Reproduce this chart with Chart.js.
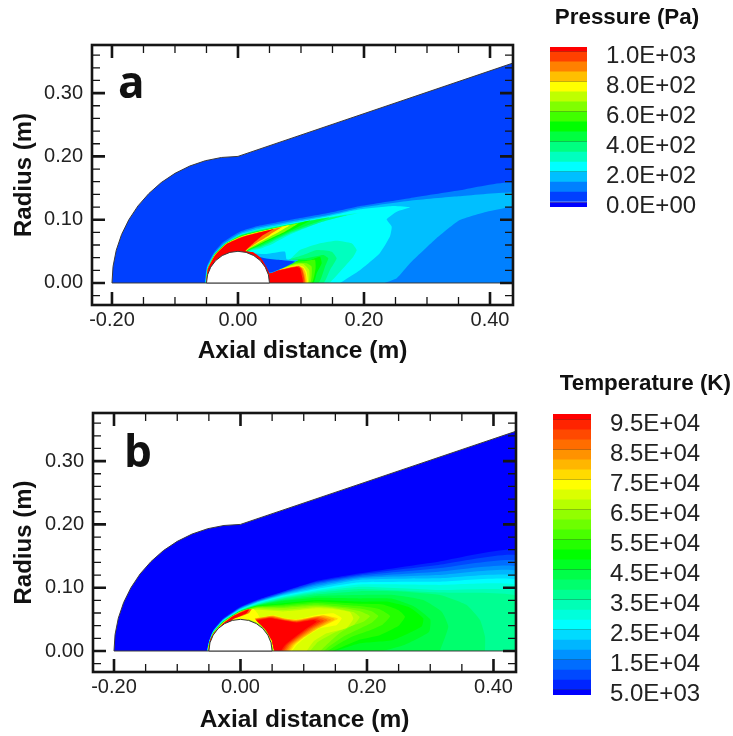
<!DOCTYPE html>
<html>
<head>
<meta charset="utf-8">
<script src="https://cdn.jsdelivr.net/npm/chart.js@4/dist/chart.umd.min.js"></script>
<style>
html, body { margin: 0; padding: 0; background: #fff; width: 733px; height: 736px; overflow: hidden; }
canvas { position: absolute; filter: blur(0.45px); }
</style>
</head>
<body>
<canvas id="panelA" width="535" height="370" style="left:0px;top:0px"></canvas>
<canvas id="panelB" width="535" height="366" style="left:0px;top:370px"></canvas>
<canvas id="legendA" width="176" height="225" style="left:528px;top:0px"></canvas>
<canvas id="legendB" width="193" height="366" style="left:540px;top:370px"></canvas>
<script>
const axialTicks = [-0.2, -0.15, -0.1, -0.05, 0, 0.05, 0.1, 0.15, 0.2, 0.25, 0.3, 0.35, 0.4];
const axialLabels = ['-0.20', '', '', '', '0.00', '', '', '', '0.20', '', '', '', '0.40'];
const radiusTicks = [-0.02, 0, 0.02, 0.04, 0.06, 0.08, 0.1, 0.12, 0.14, 0.16, 0.18, 0.2, 0.22, 0.24, 0.26, 0.28, 0.3, 0.32, 0.34, 0.36];
const radiusLabels = ['', '0.00', '', '', '', '', '0.10', '', '', '', '', '0.20', '', '', '', '', '0.30', '', '', ''];

const pressureColors = ['#0000ff', '#0040ff', '#0080ff', '#00bfff', '#00ffff', '#00ffbf', '#00ff80', '#00ff40', '#00ff00', '#40ff00', '#80ff00', '#bfff00', '#ffff00', '#ffbf00', '#ff8000', '#ff4000', '#ff0000'];
const pressureEdges = [-33.3, 0, 66.7, 133.3, 200, 266.7, 333.3, 400, 466.7, 533.3, 600, 666.7, 733.3, 800, 866.7, 933.3, 1000, 1033.3];
const pressureTicks = [0, 200, 400, 600, 800, 1000];
const pressureLabels = ['0.0E+00', '2.0E+02', '4.0E+02', '6.0E+02', '8.0E+02', '1.0E+03'];

const tempColors = ['#0000ff', '#0024ff', '#0049ff', '#006dff', '#0092ff', '#00b6ff', '#00dbff', '#00ffff', '#00ffdb', '#00ffb6', '#00ff92', '#00ff6d', '#00ff49', '#00ff24', '#00ff00', '#24ff00', '#49ff00', '#6dff00', '#92ff00', '#b6ff00', '#dbff00', '#ffff00', '#ffdb00', '#ffb600', '#ff9200', '#ff6d00', '#ff4900', '#ff2400', '#ff0000'];
const tempEdges = [3333, 5000, 8333, 11667, 15000, 18333, 21667, 25000, 28333, 31667, 35000, 38333, 41667, 45000, 48333, 51667, 55000, 58333, 61667, 65000, 68333, 71667, 75000, 78333, 81667, 85000, 88333, 91667, 95000, 97000];
const tempTicks = [5000, 15000, 25000, 35000, 45000, 55000, 65000, 75000, 85000, 95000];
const tempLabels = ['5.0E+03', '1.5E+04', '2.5E+04', '3.5E+04', '4.5E+04', '5.5E+04', '6.5E+04', '7.5E+04', '8.5E+04', '9.5E+04'];

// flow domain and body, metres
const domainEdge = [[-0.2, 0], [-0.1983, 0.0261], [-0.1932, 0.0518], [-0.1848, 0.0765], [-0.1732, 0.1], [-0.1587, 0.1218], [-0.1414, 0.1414], [-0.1218, 0.1587], [-0.1, 0.1732], [-0.0765, 0.1848], [-0.0518, 0.1932], [-0.0261, 0.1983], [0, 0.2], [0.44, 0.3487], [0.44, 0], [-0.2, 0]];
const bodyEdge = [[-0.05, 0], [-0.0483, 0.0129], [-0.0433, 0.025], [-0.0354, 0.0354], [-0.025, 0.0433], [-0.0129, 0.0483], [0, 0.05], [0.0129, 0.0483], [0.025, 0.0433], [0.0354, 0.0354], [0.0433, 0.025], [0.0483, 0.0129], [0.05, 0], [-0.05, 0]];
const belowAxis = [[-0.24, -0.04], [0.44, -0.04], [0.44, 0], [-0.24, 0]];

// pressure contours, lowest level first
const pShock = [[-0.0525, 0], [-0.0495, 0.026], [-0.039, 0.047], [-0.023, 0.065], [0.003, 0.081], [0.03, 0.0895], [0.088, 0.1005], [0.141, 0.11], [0.194, 0.1216], [0.273, 0.134], [0.35, 0.146], [0.44, 0.1565], [0.44, 0]];
const pOuter = [[-0.052, 0], [-0.049, 0.025], [-0.0385, 0.0455], [-0.022, 0.063], [0.004, 0.079], [0.031, 0.0875], [0.088, 0.098], [0.141, 0.107], [0.194, 0.119], [0.273, 0.13], [0.35, 0.137], [0.44, 0.1427], [0.44, 0.1232], [0.395, 0.1127], [0.352, 0.0995], [0.315, 0.0706], [0.273, 0.031], [0.252, 0.0074], [0.233, 0]];
const pCyan = [[-0.0517, 0], [-0.0485, 0.024], [-0.038, 0.044], [-0.021, 0.0615], [0.005, 0.0775], [0.032, 0.085], [0.088, 0.0955], [0.141, 0.105], [0.194, 0.1164], [0.2465, 0.1216], [0.273, 0.1196], [0.252, 0.1127], [0.236, 0.1006], [0.244, 0.089], [0.241, 0.073], [0.225, 0.047], [0.194, 0.0205], [0.162, 0]];
const pTongue5 = [[-0.0514, 0], [-0.0482, 0.0235], [-0.0375, 0.0455], [-0.02, 0.0625], [0.005, 0.0765], [0.032, 0.0845], [0.088, 0.0945], [0.141, 0.1035], [0.1937, 0.1111], [0.1407, 0.0995], [0.0825, 0.0765], [0.0561, 0.0625], [0.0349, 0.054], [0.018, 0.0495], [0, 0]];
const pTongue6 = [[-0.0512, 0], [-0.048, 0.023], [-0.037, 0.0452], [-0.0195, 0.0625], [0.0055, 0.076], [0.032, 0.083], [0.088, 0.0935], [0.141, 0.1025], [0.1725, 0.1074], [0.1302, 0.0955], [0.0825, 0.0785], [0.0534, 0.0645], [0.0349, 0.056], [0.016, 0.05], [0, 0]];
const pTongue7 = [[-0.0511, 0], [-0.0479, 0.0229], [-0.0369, 0.0451], [-0.0192, 0.0625], [0.0058, 0.0755], [0.032, 0.082], [0.088, 0.093], [0.145, 0.1035], [0.11, 0.091], [0.0825, 0.0805], [0.053, 0.0665], [0.034, 0.0575], [0.015, 0.05], [0, 0]];
const pTongue8 = [[-0.051, 0], [-0.0478, 0.0228], [-0.0368, 0.045], [-0.019, 0.0625], [0.006, 0.075], [0.032, 0.0815], [0.088, 0.0925], [0.1143, 0.0985], [0.0825, 0.0825], [0.0525, 0.0685], [0.033, 0.059], [0.014, 0.05], [0, 0]];
const pTongue10 = [[-0.0508, 0], [-0.0477, 0.0225], [-0.0366, 0.0447], [-0.0185, 0.0625], [0.0065, 0.0745], [0.032, 0.081], [0.07, 0.0885], [0.096, 0.0945], [0.075, 0.0815], [0.05, 0.0695], [0.031, 0.06], [0.013, 0.05], [0, 0]];
const pTongue12 = [[-0.0506, 0], [-0.0477, 0.0223], [-0.0365, 0.0445], [-0.018, 0.0625], [0.007, 0.074], [0.032, 0.0805], [0.05, 0.0845], [0.0825, 0.0916], [0.068, 0.0825], [0.048, 0.0715], [0.029, 0.061], [0.012, 0.0497], [0, 0]];
const pTongue14 = [[-0.0504, 0], [-0.0478, 0.0222], [-0.0365, 0.044], [-0.018, 0.062], [0.0075, 0.0735], [0.03, 0.0795], [0.045, 0.0825], [0.07, 0.0885], [0.055, 0.0795], [0.045, 0.0725], [0.027, 0.0615], [0.0115, 0.0496], [0, 0]];
const pTongue16 = [[-0.0502, 0], [-0.0478, 0.022], [-0.0365, 0.0435], [-0.018, 0.0615], [0.0085, 0.073], [0.056, 0.0848], [0.0402, 0.0758], [0.0243, 0.0627], [0.0111, 0.0495], [0, 0]];
const pBlob5 = [[0.0481, 0.0163], [0.0825, 0.0374], [0.0984, 0.0521], [0.1302, 0.0627], [0.1566, 0.0669], [0.1804, 0.0627], [0.1884, 0.0521], [0.183, 0.0416], [0.1619, 0.0179], [0.1434, 0], [0.048, 0]];
const pBlob6 = [[0.0481, 0.0163], [0.0825, 0.0374], [0.1037, 0.0442], [0.1249, 0.0521], [0.1487, 0.0495], [0.1566, 0.039], [0.146, 0.0205], [0.1354, 0], [0.048, 0]];
const pBlob7 = [[0.0481, 0.0163], [0.0852, 0.0363], [0.109, 0.039], [0.1354, 0.0442], [0.1434, 0.039], [0.1381, 0.0258], [0.1275, 0], [0.048, 0]];
const pBlob8 = [[0.0481, 0.0163], [0.0878, 0.0348], [0.1143, 0.0363], [0.1302, 0.0416], [0.1328, 0.0311], [0.1249, 0.0153], [0.1196, 0], [0.048, 0]];
const pBlob9 = [[0.0481, 0.0163], [0.0905, 0.033], [0.109, 0.0348], [0.1222, 0.0363], [0.1232, 0.0232], [0.1169, 0], [0.048, 0]];
const pBlob10 = [[0.0481, 0.0163], [0.0931, 0.0311], [0.109, 0.0311], [0.1169, 0.0258], [0.1143, 0], [0.048, 0]];
const pBlob11 = [[0.0481, 0.0163], [0.0931, 0.03], [0.1037, 0.03], [0.113, 0.0205], [0.1116, 0], [0.048, 0]];
const pBlob12 = [[0.0481, 0.0163], [0.0942, 0.0284], [0.1037, 0.0258], [0.109, 0.0179], [0.11, 0], [0.048, 0]];
const pBlob13 = [[0.0481, 0.0163], [0.095, 0.0275], [0.1037, 0.0235], [0.1075, 0.0153], [0.1085, 0], [0.048, 0]];
const pBlob14 = [[0.0481, 0.0163], [0.0955, 0.027], [0.102, 0.023], [0.1055, 0.0126], [0.1065, 0], [0.048, 0]];
const pBlob15 = [[0.0481, 0.0163], [0.0958, 0.0265], [0.101, 0.0225], [0.104, 0.0126], [0.105, 0], [0.048, 0]];
const pBlob16 = [[0.0481, 0.0163], [0.0931, 0.0258], [0.0984, 0.0232], [0.1011, 0.0126], [0.1027, 0], [0.048, 0]];
const pWakeLight = [[0.0111, 0.0479], [0.0455, 0.0458], [0.0746, 0.0495], [0.0773, 0.0374], [0.0958, 0.0363], [0.0508, 0.0153], [0.03, 0.03]];
const pWakeDeep = [[0.018, 0.0454], [0.0429, 0.039], [0.0667, 0.0363], [0.0905, 0.0337], [0.0508, 0.0163], [0.03, 0.03]];
const pWakeSkin = [[0.009, 0.051], [0.024, 0.0485], [0.036, 0.04], [0.044, 0.0275], [0.0495, 0.015], [0.03, 0.02]];

const pressureShapes = [domainEdge, pShock, pOuter, pCyan, pTongue5, pTongue6, pTongue7, pTongue8, pTongue10, pTongue12, pTongue14, pTongue16, pBlob5, pBlob6, pBlob7, pBlob8, pBlob9, pBlob10, pBlob11, pBlob12, pBlob13, pBlob14, pBlob15, pBlob16, pWakeLight, pWakeDeep, pWakeSkin];
const pressureShapeLevels = [1, 2, 3, 4, 5, 6, 7, 8, 10, 12, 14, 16, 5, 6, 7, 8, 9, 10, 11, 12, 13, 14, 15, 16, 3, 1, 16];

// temperature contours: heights of each level over the shared front stations
const tFrontX = [-0.0493, -0.043, -0.0272, -0.0008, 0.0256, 0.0677, 0.1205];
const tStag = [-0.0534, -0.0532, -0.053, -0.0528, -0.0526, -0.0524, -0.0522, -0.052, -0.0518, -0.0517, -0.0516, -0.0515, -0.0515, -0.0515, -0.0515, -0.0514, -0.0514, -0.0514, -0.0513, -0.0513];
const tTop = [
    [0.0174, 0.0332, 0.0516, 0.0694, 0.0806, 0.094, 0.1106],
    [0.0168, 0.0326, 0.051, 0.0688, 0.0798, 0.0934, 0.1092],
    [0.0162, 0.032, 0.0503, 0.0681, 0.0789, 0.0922, 0.1075],
    [0.0158, 0.0316, 0.0498, 0.0675, 0.0782, 0.0912, 0.1055],
    [0.0154, 0.0312, 0.0492, 0.0668, 0.0775, 0.09, 0.103],
    [0.015, 0.0308, 0.0488, 0.0662, 0.0767, 0.0888, 0.1005],
    [0.0146, 0.0304, 0.0484, 0.0655, 0.0758, 0.0875, 0.098],
    [0.0142, 0.03, 0.048, 0.0648, 0.075, 0.0862, 0.096],
    [0.0138, 0.0296, 0.0475, 0.064, 0.074, 0.0848, 0.094],
    [0.0134, 0.0292, 0.047, 0.0636, 0.073, 0.0835, 0.092],
    [0.013, 0.0288, 0.0465, 0.0633, 0.0725, 0.082, 0.0895],
    [0.0128, 0.0286, 0.0462, 0.063, 0.072, 0.0805, 0.087],
    [0.0126, 0.0284, 0.046, 0.0628, 0.0715, 0.079, 0.084],
    [0.0124, 0.0283, 0.0458, 0.0626, 0.071, 0.0755, 0.0806],
    [0.0122, 0.0282, 0.0456, 0.0624, 0.0705, 0.0735, 0.078],
    [0.0121, 0.0281, 0.0454, 0.0622, 0.07, 0.072, 0.076],
    [0.012, 0.028, 0.0452, 0.062, 0.069, 0.07, 0.0735],
    [0.0119, 0.0278, 0.045, 0.0618, 0.068, 0.068, 0.0715],
    [0.0118, 0.0276, 0.0448, 0.0614, 0.067, 0.065, 0.0695],
    [0.0117, 0.0272, 0.0447, 0.061, 0.065, 0.0625, 0.0675],
];
const tTail = [
    [[0.189, 0.1227], [0.3128, 0.1411], [0.44, 0.158], [0.44, 0]],
    [[0.189, 0.121], [0.3128, 0.1359], [0.44, 0.1495], [0.44, 0]],
    [[0.189, 0.119], [0.3128, 0.1306], [0.44, 0.1411], [0.44, 0]],
    [[0.189, 0.117], [0.3128, 0.1253], [0.44, 0.1322], [0.44, 0]],
    [[0.189, 0.115], [0.3128, 0.12], [0.44, 0.1253], [0.44, 0]],
    [[0.189, 0.1125], [0.3128, 0.1148], [0.44, 0.1174], [0.44, 0]],
    [[0.189, 0.1085], [0.3128, 0.1095], [0.44, 0.1111], [0.44, 0]],
    [[0.189, 0.105], [0.3128, 0.1043], [0.44, 0.1027], [0.44, 0]],
    [[0.189, 0.1015], [0.3128, 0.0964], [0.44, 0.0937], [0.44, 0]],
    [[0.189, 0.098], [0.3128, 0.0925], [0.44, 0.086], [0.44, 0]],
    [[0.189, 0.0945], [0.2522, 0.094], [0.3154, 0.0885], [0.3576, 0.0727], [0.3787, 0.049], [0.3866, 0.0227], [0.3866, 0]],
    [[0.189, 0.0885], [0.2416, 0.0885], [0.289, 0.0806], [0.3181, 0.0621], [0.3286, 0.0385], [0.3154, 0]],
    [[0.189, 0.083], [0.24, 0.0825], [0.275, 0.07], [0.3, 0.05], [0.298, 0.03], [0.26, 0.01], [0.225, 0]],
    [[0.189, 0.078], [0.2306, 0.078], [0.268, 0.0685], [0.289, 0.0516], [0.2864, 0.0385], [0.2416, 0.0174], [0.1889, 0.0121], [0.15, 0]],
    [[0.189, 0.0745], [0.225, 0.0735], [0.25, 0.0645], [0.2601, 0.0542], [0.25, 0.04], [0.22, 0.025], [0.1889, 0.018], [0.16, 0.006], [0.145, 0]],
    [[0.189, 0.071], [0.22, 0.066], [0.2365, 0.0553], [0.225, 0.042], [0.2, 0.031], [0.175, 0.022], [0.15, 0.008], [0.138, 0]],
    [[0.189, 0.067], [0.208, 0.0625], [0.218, 0.0553], [0.208, 0.045], [0.19, 0.036], [0.165, 0.024], [0.14, 0.007], [0.132, 0]],
    [[0.165, 0.0675], [0.19, 0.0625], [0.2047, 0.0553], [0.195, 0.0465], [0.175, 0.039], [0.155, 0.027], [0.132, 0.006], [0.126, 0]],
    [[0.1468, 0.068], [0.178, 0.0615], [0.1885, 0.0535], [0.18, 0.042], [0.15, 0.0295], [0.122, 0.014], [0.11, 0]],
    [[0.1468, 0.0665], [0.173, 0.0615], [0.1784, 0.051], [0.1678, 0.0365], [0.1362, 0.0279], [0.1151, 0.0147], [0.1046, 0]],
];
const tHot21 = [[-0.0512, 0], [-0.049, 0.0115], [-0.043, 0.0268], [-0.0272, 0.0445], [-0.0008, 0.0605], [0.0203, 0.0665], [0.0265, 0.06], [0.0308, 0.0532], [0.052, 0.0569], [0.0677, 0.0527], [0.0888, 0.0501], [0.1204, 0.0569], [0.1468, 0.0595], [0.16, 0.0516], [0.1521, 0.0411], [0.1257, 0.0358], [0.1046, 0.0227], [0.0888, 0.0095], [0.0809, 0], [0.05, 0]];
const tHot22 = [[0.0225, 0.0513], [0.051, 0.0562], [0.0677, 0.0522], [0.0888, 0.0496], [0.132, 0.0565], [0.154, 0.051], [0.1235, 0.0358], [0.099, 0.0201], [0.086, 0.0095], [0.0785, 0], [0.054, 0], [0.0495, 0.0174], [0.039, 0.0345]];
const tHot23 = [[0.0225, 0.0513], [0.051, 0.0555], [0.0677, 0.0517], [0.0888, 0.049], [0.13, 0.056], [0.149, 0.0503], [0.122, 0.0358], [0.0975, 0.0201], [0.0834, 0.0095], [0.076, 0], [0.054, 0], [0.0495, 0.0174], [0.039, 0.0345]];
const tHot24 = [[0.023, 0.0508], [0.05, 0.0548], [0.0677, 0.051], [0.0888, 0.048], [0.125, 0.055], [0.143, 0.0495], [0.1185, 0.0358], [0.095, 0.0201], [0.0808, 0.0095], [0.0735, 0], [0.054, 0], [0.0495, 0.0174], [0.039, 0.0345]];
const tHot25 = [[0.0235, 0.0503], [0.049, 0.054], [0.0677, 0.0503], [0.0888, 0.0473], [0.1225, 0.0535], [0.1375, 0.0487], [0.115, 0.0358], [0.092, 0.0201], [0.0782, 0.0095], [0.071, 0], [0.054, 0], [0.0495, 0.0174], [0.039, 0.0345]];
const tHot26 = [[0.024, 0.0497], [0.0485, 0.0533], [0.0677, 0.0495], [0.0888, 0.0465], [0.12, 0.052], [0.132, 0.0478], [0.1115, 0.0358], [0.0891, 0.0201], [0.0756, 0.0095], [0.0685, 0], [0.054, 0], [0.0495, 0.0174], [0.039, 0.0345]];
const tHot27 = [[0.0245, 0.049], [0.0475, 0.0525], [0.0677, 0.0488], [0.0888, 0.0458], [0.1175, 0.0505], [0.1265, 0.047], [0.108, 0.0358], [0.0863, 0.0201], [0.073, 0.0095], [0.066, 0], [0.054, 0], [0.0495, 0.0174], [0.039, 0.0345]];
const tHot28 = [[0.0256, 0.0479], [0.0466, 0.0516], [0.0677, 0.048], [0.0888, 0.0448], [0.1151, 0.049], [0.1204, 0.0463], [0.1046, 0.0358], [0.0835, 0.0201], [0.0704, 0.0095], [0.0635, 0], [0.054, 0], [0.0495, 0.0174], [0.039, 0.0345]];
const tLobeOrange = [[-0.0507, 0], [-0.0478, 0.0174], [-0.0422, 0.0282], [-0.0272, 0.0441], [-0.0113, 0.0562], [0.0071, 0.0647], [0.0175, 0.0663], [0.0135, 0.06], [0.003, 0.0555], [-0.012, 0.0495], [-0.03, 0]];
const tLobeRed = [[-0.0505, 0], [-0.048, 0.0174], [-0.042, 0.0279], [-0.0272, 0.0437], [-0.0113, 0.0553], [0.0071, 0.0637], [0.0139, 0.0658], [0.0097, 0.0595], [-0.0008, 0.0548], [-0.014, 0.0485], [-0.03, 0]];
const tSkin = [[0.012, 0.0505], [0.03, 0.0425], [0.0415, 0.0305], [0.048, 0.016], [0.0515, 0.004], [0.0525, 0], [0.03, 0]];

const tempShapes = [
    domainEdge,
    ...tTop.map((ys, i) => [[tStag[i], 0], ...tFrontX.map((x, k) => [x, ys[k]]), ...tTail[i]]),
    tHot21, tHot22, tHot23, tHot24, tHot25, tHot26, tHot27, tHot28, tLobeOrange, tLobeRed, tSkin,
];
const tempShapeLevels = [0, 1, 2, 3, 4, 5, 6, 7, 8, 9, 10, 11, 12, 13, 14, 15, 16, 17, 18, 19, 20, 21, 22, 23, 24, 25, 26, 27, 28, 25, 28, 18];

const FONT = '"Liberation Sans", Arial, sans-serif';

const panelFrame = {
    id: 'panelFrame',
    afterDatasetsDraw(chart, args, opts) {
        const { ctx, chartArea: area, scales } = chart;
        ctx.save();
        ctx.strokeStyle = '#151515';
        [['x', scales.x], ['y', scales.y]].forEach(([axis, scale]) => {
            scale.ticks.forEach((tick) => {
                if (tick.value < scale.min || tick.value > scale.max) return;
                const major = tick.label !== '';
                const len = major ? 13 : 8;
                const p = scale.getPixelForValue(tick.value);
                ctx.lineWidth = major ? 2.6 : 1.3;
                ctx.beginPath();
                if (axis === 'x') {
                    ctx.moveTo(p, area.top); ctx.lineTo(p, area.top + len);
                    ctx.moveTo(p, area.bottom); ctx.lineTo(p, area.bottom - len);
                } else {
                    ctx.moveTo(area.left, p); ctx.lineTo(area.left + len, p);
                    ctx.moveTo(area.right, p); ctx.lineTo(area.right - len, p);
                }
                ctx.stroke();
            });
        });
        ctx.lineWidth = 2.6;
        ctx.strokeRect(area.left, area.top, area.right - area.left, area.bottom - area.top);
        ctx.fillStyle = '#111';
        ctx.font = 'bold 44px "Open Sans", sans-serif';
        ctx.fillText(opts.letter, area.left + opts.dx, area.top + opts.dy);
        ctx.restore();
    },
};

function shapeDataset(points, color, order, tension) {
    return {
        data: points.map(([x, y]) => ({ x, y })),
        showLine: true,
        fill: 'shape',
        backgroundColor: color,
        borderColor: color,
        borderWidth: 0,
        pointRadius: 0,
        tension,
        order,
    };
}

function outlineDataset(points, fillColor, order) {
    return {
        data: points.map(([x, y]) => ({ x, y })),
        showLine: true,
        fill: fillColor ? 'shape' : false,
        backgroundColor: fillColor || 'transparent',
        borderColor: '#3a3a3a',
        borderWidth: 1,
        pointRadius: 0,
        order,
    };
}

function noEdgePadding(scale) {
    scale.paddingTop = 0;
    scale.paddingBottom = 0;
    scale.paddingLeft = 0;
    scale.paddingRight = 0;
}

function makePanel(id, shapes, levels, colors, cfg) {
    const n = shapes.length + 3;
    const datasets = shapes.map((pts, i) => shapeDataset(pts, colors[levels[i]], n - i, i === 0 ? 0 : 0.15));
    datasets.push(shapeDataset(belowAxis, '#ffffff', 2, 0));
    datasets.push(outlineDataset(domainEdge, null, 1));
    datasets.push(outlineDataset(bodyEdge, '#ffffff', 0));
    new Chart(document.getElementById(id), {
        type: 'scatter',
        data: { datasets },
        plugins: [panelFrame],
        options: {
            responsive: false,
            animation: false,
            layout: { padding: { left: 0, top: cfg.top, right: cfg.right, bottom: 0 } },
            plugins: {
                legend: { display: false },
                tooltip: { enabled: false },
                panelFrame: { letter: cfg.letter, dx: cfg.letterX, dy: cfg.letterY },
            },
            scales: {
                x: {
                    min: cfg.xMin,
                    max: cfg.xMax,
                    afterBuildTicks: (scale) => { scale.ticks = axialTicks.map((value) => ({ value })); },
                    afterFit: (scale) => { scale.height = cfg.bottomH; noEdgePadding(scale); },
                    grid: { display: false, drawTicks: false },
                    border: { display: false },
                    ticks: {
                        autoSkip: false,
                        maxRotation: 0,
                        padding: 3,
                        color: '#222',
                        font: { family: FONT, size: 20 },
                        callback: (v, i) => axialLabels[i],
                    },
                    title: {
                        display: true,
                        text: 'Axial distance (m)',
                        color: '#111',
                        font: { family: FONT, size: 24.5, weight: 'bold' },
                        padding: { top: 0, bottom: cfg.titleBottom },
                    },
                },
                y: {
                    min: cfg.yMin,
                    max: cfg.yMax,
                    afterBuildTicks: (scale) => { scale.ticks = radiusTicks.map((value) => ({ value })); },
                    afterFit: (scale) => { scale.width = cfg.left; noEdgePadding(scale); },
                    grid: { display: false, drawTicks: false },
                    border: { display: false },
                    ticks: {
                        autoSkip: false,
                        padding: 9,
                        color: '#222',
                        font: { family: FONT, size: 20 },
                        callback: (v, i) => radiusLabels[i],
                    },
                    title: {
                        display: true,
                        text: 'Radius (m)',
                        color: '#111',
                        font: { family: FONT, size: 24, weight: 'bold' },
                        padding: { top: 9.5, bottom: 0 },
                    },
                },
            },
        },
    });
}

function makeLegend(id, edges, colors, tickValues, tickLabels, cfg) {
    const datasets = colors.map((color, i) => ({
        data: [[edges[i], edges[i + 1]]],
        backgroundColor: color,
        borderWidth: 0,
        barPercentage: 1,
        categoryPercentage: 1,
        grouped: false,
    }));
    new Chart(document.getElementById(id), {
        type: 'bar',
        data: { labels: [''], datasets },
        options: {
            responsive: false,
            animation: false,
            layout: { padding: cfg.padding },
            plugins: {
                legend: { display: false },
                tooltip: { enabled: false },
                title: {
                    display: true,
                    text: cfg.title,
                    align: cfg.titleAlign,
                    color: '#111',
                    font: { family: FONT, size: 22.4, weight: 'bold' },
                    padding: { top: 0, bottom: cfg.titleGap },
                },
            },
            scales: {
                x: { display: false },
                y: {
                    position: 'right',
                    min: edges[0],
                    max: edges[edges.length - 1],
                    afterBuildTicks: (scale) => { scale.ticks = tickValues.map((value) => ({ value })); },
                    afterFit: (scale) => { scale.width = cfg.axisW; noEdgePadding(scale); },
                    grid: { drawOnChartArea: true, drawTicks: false, color: 'rgba(40,40,40,0.28)', lineWidth: 1, z: 1 },
                    border: { display: false },
                    ticks: {
                        autoSkip: false,
                        padding: 19,
                        labelOffset: 4,
                        color: '#222',
                        font: { family: FONT, size: 24 },
                        callback: (v, i) => tickLabels[i],
                    },
                },
            },
        },
    });
}

makePanel('panelA', pressureShapes, pressureShapeLevels, pressureColors, {
    letter: 'a', letterX: 26, letterY: 53,
    top: 45, right: 22, left: 92, bottomH: 65, titleBottom: 4.3,
    xMin: -0.2317, xMax: 0.4365, yMin: -0.0348, yMax: 0.376,
});
makePanel('panelB', tempShapes, tempShapeLevels, tempColors, {
    letter: 'b', letterX: 31, letterY: 54,
    top: 43, right: 19, left: 93, bottomH: 64, titleBottom: 1.3,
    xMin: -0.2332, xMax: 0.4356, yMin: -0.0332, yMax: 0.376,
});
makeLegend('legendA', pressureEdges, pressureColors, pressureTicks, pressureLabels, {
    title: 'Pressure (Pa)', titleAlign: 'center', titleGap: 16,
    padding: { left: 22, top: 4, right: 0, bottom: 18 }, axisW: 117,
});
makeLegend('legendB', tempEdges, tempColors, tempTicks, tempLabels, {
    title: 'Temperature (K)', titleAlign: 'end', titleGap: 17,
    padding: { left: 13, top: 0, right: 2, bottom: 41 }, axisW: 140,
});
</script>
</body>
</html>
